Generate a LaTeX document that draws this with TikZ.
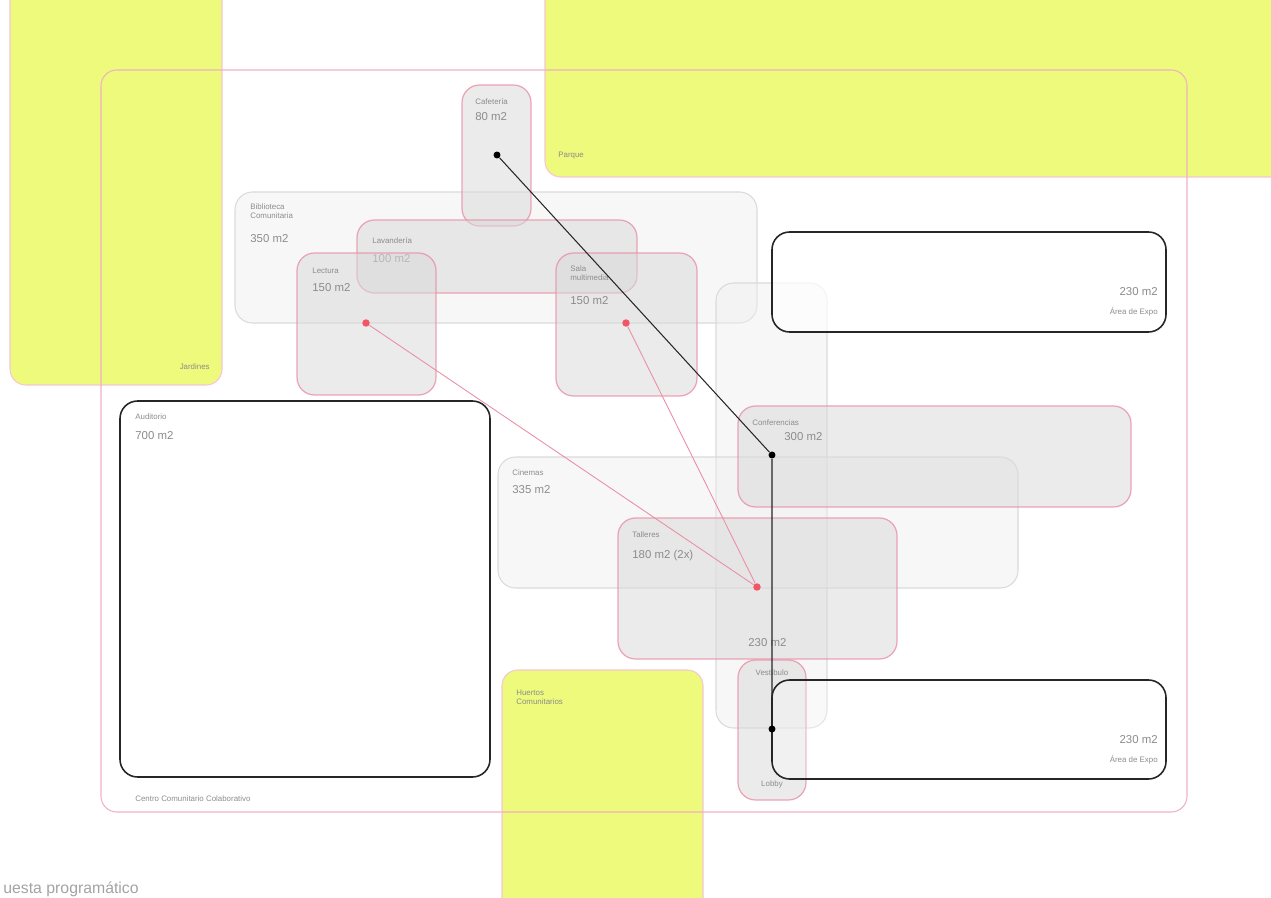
\documentclass[tikz,border=0pt]{standalone}
\usepackage{fontspec}
\setmainfont{Liberation Sans}
\usepackage{tikz}
\usepackage{xcolor}

\definecolor{jardin}{HTML}{EEFA7C}
\definecolor{rosa}{HTML}{E98FA6}
\definecolor{gris}{HTML}{DADADA}
\definecolor{texto}{HTML}{8C8C8C}

\tikzset{
  verde/.style={fill=jardin, draw=rosa!50, rounded corners=9pt, line width=0.6pt},
  zona/.style={fill=gris, fill opacity=0.55, draw=rosa, draw opacity=0.8, rounded corners=10pt, line width=0.7pt},
  zonaclara/.style={fill=gris!45, fill opacity=0.45, draw=gris, rounded corners=10pt, line width=0.6pt},
  expo/.style={fill=white, fill opacity=0.7, draw=black!85, rounded corners=10pt, line width=0.9pt},
  etiq/.style={anchor=north west, inner sep=0pt, align=left, text=texto, font=\fontsize{4.5}{5.2}\selectfont},
  area/.style={anchor=north west, inner sep=0pt, text=texto, font=\fontsize{6.5}{7.5}\selectfont},
  punto/.style={circle, fill=black, inner sep=1.4pt},
  puntorosa/.style={circle, fill=rosa!60!red, inner sep=1.5pt},
}

\begin{document}
\begin{tikzpicture}[x=0.02cm, y=-0.02cm]
    \useasboundingbox (0,0) rectangle (1271,898);
    \clip (0,0) rectangle (1271,898);
    % Jardines, parque y huertos
    \draw[verde] (10,-30) rectangle (222,385);
    \draw[verde] (545,-30) rectangle (1300,177);
    \draw[verde] (502,670) rectangle (703,930);
    \node[etiq, anchor=south east] (jardines) at (210,370) {Jardines};
    \node[etiq] (parque) at (558,152) {Parque};
    \node[etiq] (huertos) at (516,690) {Huertos\\Comunitarios};
    % Centro comunitario
    \draw[draw=rosa!70, rounded corners=9pt, line width=0.6pt] (101,70) rectangle (1187,812);
    \node[etiq] (centro) at (135,795) {Centro Comunitario Colaborativo};
    % Biblioteca y sus salas
    \draw[zonaclara] (235,192) rectangle (757,323);
    \node[etiq] (biblio) at (250,203) {Biblioteca\\Comunitaria};
    \node[area] (biblioarea) at (250,234) {350 m2};
    \draw[zona] (462,85) rectangle (531,226);
    \node[etiq] (cafe) at (475,98) {Cafetería};
    \node[area] (cafearea) at (475,112) {80 m2};
    \draw[zona] (357,220) rectangle (637,293);
    \node[etiq] (lavand) at (372,237) {Lavandería};
    \node[area] (lavandarea) at (372,254) {100 m2};
    \draw[zona] (297,253) rectangle (436,395);
    \node[etiq] (lectura) at (312,268) {Lectura};
    \node[area] (lecturaarea) at (312,283) {150 m2};
    \draw[zona] (556,253) rectangle (697,396);
    \node[etiq] (sala) at (570,265) {Sala\\multimedia};
    \node[area] (salaarea) at (570,296) {150 m2};
    % Circulacion vertical
    \draw[zonaclara] (716,283) rectangle (827,728);
    % Auditorio
    \draw[expo] (120,401) rectangle (490,777);
    \node[etiq] (audit) at (135,413) {Auditorio};
    \node[area] (auditarea) at (135,431) {700 m2};
    % Areas de exposicion
    \draw[expo] (772,232) rectangle (1166,332);
    \node[area, anchor=north east] (expo1area) at (1158,287) {230 m2};
    \node[etiq, anchor=north east] (expo1) at (1158,307) {Área de Expo};
    % Cinemas, conferencias y talleres
    \draw[zonaclara] (498,457) rectangle (1018,588);
    \node[etiq] (cine) at (512,469) {Cinemas};
    \node[area] (cinearea) at (512,485) {335 m2};
    \draw[zona] (738,406) rectangle (1131,507);
    \node[etiq] (confer) at (752,419) {Conferencias};
    \node[area] (conferarea) at (784,432) {300 m2};
    \draw[zona] (618,518) rectangle (897,659);
    \node[etiq] (taller) at (632,531) {Talleres};
    \node[area] (tallerarea) at (632,550) {180 m2 (2x)};
    \node[area] (vestarea) at (748,638) {230 m2};
    % Vestibulo
    \draw[zona] (738,660) rectangle (806,800);
    \node[etiq, anchor=north] (vest) at (772,669) {Vestíbulo};
    \node[etiq, anchor=north] (lobby) at (772,780) {Lobby};
    \draw[expo, fill opacity=0.3] (772,680) rectangle (1166,779);
    \node[area, anchor=north east] (expo2area) at (1158,735) {230 m2};
    \node[etiq, anchor=north east] (expo2) at (1158,755) {Área de Expo};
    % Relaciones
    \node[punto] (pcafe) at (497,155) {};
    \node[punto] (pconf) at (772,455) {};
    \node[punto] (pvest) at (772,729) {};
    \node[puntorosa] (plect) at (366,323) {};
    \node[puntorosa] (psala) at (626,323) {};
    \node[puntorosa] (ptall) at (757,587) {};
    \draw[black!85, line width=0.6pt] (pcafe) -- (pconf) -- (pvest);
    \draw[rosa, line width=0.5pt] (plect) -- (ptall);
    \draw[rosa, line width=0.5pt] (psala) -- (ptall);
    % Titulo
    \node[anchor=base west, inner sep=0pt, text=texto!80, font=\fontsize{9}{10}\selectfont] (titulo) at (3,893) {uesta programático};
\end{tikzpicture}
\end{document}
